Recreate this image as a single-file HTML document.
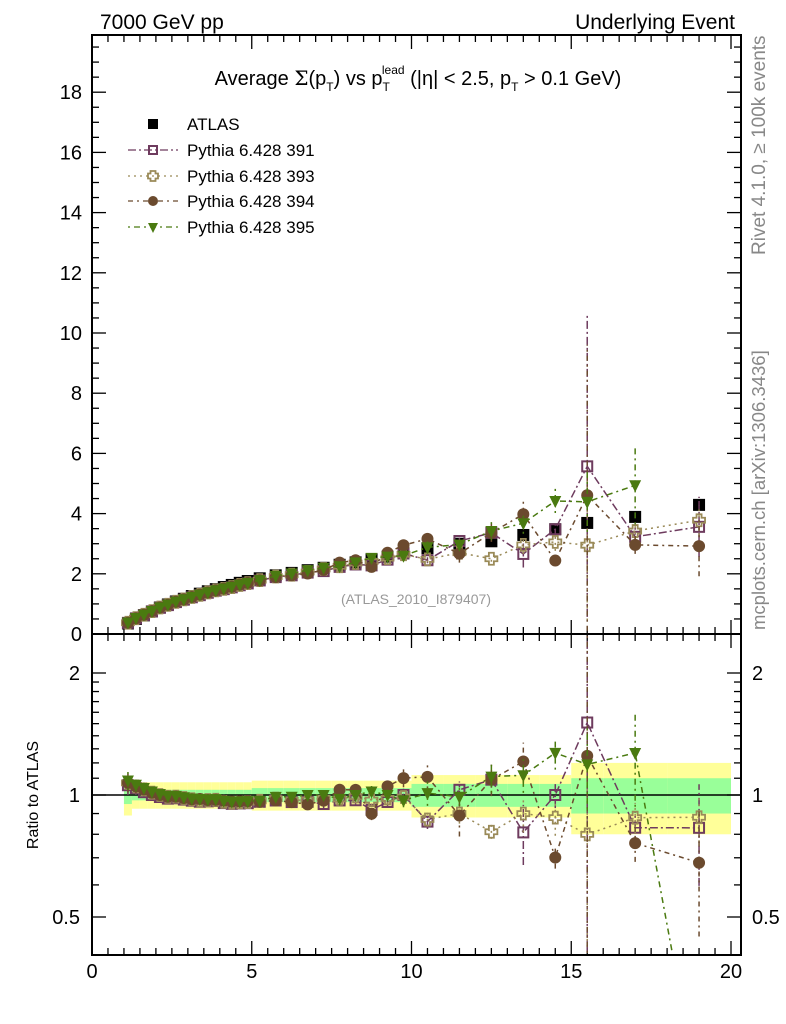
<!DOCTYPE html>
<html><head><meta charset="utf-8"><style>
html,body{margin:0;padding:0;background:#fff;overflow:hidden;width:786px;height:1024px;}
svg{display:block;font-family:"Liberation Sans",Arial,sans-serif;}
</style></head><body>
<svg id="chart" width="786" height="1024" viewBox="0 0 786 1024" xmlns="http://www.w3.org/2000/svg">
<defs>
<clipPath id="cm"><rect x="92" y="35" width="649" height="599"/></clipPath>
<clipPath id="cr"><rect x="92" y="634" width="649" height="321"/></clipPath>
</defs>
<text x="100" y="29" font-size="21">7000 GeV pp</text>
<text x="735" y="29" font-size="21" text-anchor="end">Underlying Event</text>
<text x="418" y="85" font-size="20" text-anchor="middle">Average <tspan font-family="DejaVu Serif">Σ</tspan>(p<tspan font-size="12" dy="6">T</tspan><tspan dy="-6">) vs p</tspan><tspan font-size="12" dy="6">T</tspan><tspan font-size="12" dx="-8" dy="-17">lead</tspan><tspan dy="11"> (|η| &lt; 2.5, p</tspan><tspan font-size="12" dy="6">T</tspan><tspan dy="-6"> &gt; 0.1 GeV)</tspan></text>
<text x="416" y="604" font-size="14" fill="#999" text-anchor="middle">(ATLAS_2010_I879407)</text>
<text transform="translate(765,255) rotate(-90)" font-size="19" fill="#888">Rivet 4.1.0, ≥ 100k events</text>
<text transform="translate(765,630) rotate(-90)" font-size="18.5" fill="#888">mcplots.cern.ch [arXiv:1306.3436]</text>
<text transform="translate(38,795) rotate(-90)" font-size="16" text-anchor="middle">Ratio to ATLAS</text>
<g id="bands" clip-path="url(#cr)"></g>
<line x1="92" x2="741" y1="795" y2="795" stroke="#000" stroke-width="1.5"/>
<g id="axes"></g>
<g id="main" clip-path="url(#cm)"></g>
<g id="ratio" clip-path="url(#cr)"></g>
<g id="legend"></g>
<rect x="92" y="35" width="649" height="599" fill="none" stroke="#000" stroke-width="2"/>
<rect x="92" y="634" width="649" height="321" fill="none" stroke="#000" stroke-width="2"/>
</svg>
<script>
const xCenters=[1.125,1.375,1.625,1.875,2.125,2.375,2.625,2.875,3.125,3.375,3.625,3.875,4.125,4.375,4.625,4.875,5.25,5.75,6.25,6.75,7.25,7.75,8.25,8.75,9.25,9.75,10.5,11.5,12.5,13.5,14.5,15.5,17,19];
const xEdges=[1,1.25,1.5,1.75,2,2.25,2.5,2.75,3,3.25,3.5,3.75,4,4.25,4.5,4.75,5,5.5,6,6.5,7,7.5,8,8.5,9,9.5,10,11,12,13,14,15,16,18,20];
const atlas=[0.35,0.5,0.62,0.75,0.88,0.98,1.08,1.17,1.26,1.34,1.42,1.49,1.56,1.63,1.70,1.76,1.85,1.95,2.03,2.12,2.20,2.30,2.38,2.48,2.57,2.68,2.85,3.0,3.08,3.29,3.48,3.69,3.89,4.29];
const atlasTotRel=[0.11,0.075,0.075,0.075,0.075,0.075,0.075,0.075,0.075,0.075,0.075,0.075,0.075,0.075,0.075,0.075,0.085,0.085,0.085,0.085,0.085,0.085,0.085,0.085,0.085,0.085,0.12,0.12,0.12,0.12,0.12,0.2,0.2,0.2];
const atlasStatRel=[0.05,0.03,0.03,0.03,0.03,0.03,0.03,0.03,0.03,0.03,0.03,0.03,0.03,0.03,0.03,0.03,0.04,0.04,0.04,0.04,0.04,0.04,0.04,0.04,0.04,0.04,0.065,0.065,0.065,0.065,0.065,0.1,0.1,0.1];
const py391=[0.37,0.52,0.63,0.75,0.87,0.96,1.06,1.14,1.22,1.29,1.37,1.44,1.49,1.55,1.62,1.68,1.78,1.89,1.95,2.04,2.09,2.23,2.31,2.28,2.47,2.68,2.45,3.09,3.36,2.66,3.48,5.57,3.23,3.56];
const py393=[0.375,0.525,0.64,0.76,0.88,0.97,1.07,1.15,1.23,1.30,1.38,1.45,1.50,1.56,1.63,1.69,1.79,1.91,1.97,2.06,2.16,2.25,2.36,2.41,2.52,2.65,2.48,2.7,2.5,2.96,3.06,2.95,3.42,3.78];
const py394=[0.375,0.525,0.64,0.76,0.88,0.97,1.07,1.15,1.23,1.31,1.38,1.45,1.51,1.57,1.64,1.70,1.78,1.89,1.95,2.01,2.13,2.37,2.45,2.23,2.70,2.95,3.16,2.67,3.36,3.98,2.44,4.61,2.96,2.92];
const py395=[0.38,0.53,0.645,0.765,0.885,0.975,1.075,1.155,1.235,1.31,1.385,1.455,1.51,1.57,1.64,1.70,1.79,1.93,2.01,2.12,2.20,2.25,2.38,2.53,2.57,2.60,2.88,2.97,3.42,3.68,4.42,4.39,4.94,0];
const err391=[0.02,0.02,0.02,0.02,0.02,0.02,0.02,0.02,0.02,0.02,0.02,0.02,0.03,0.03,0.03,0.03,0.04,0.04,0.05,0.05,0.06,0.06,0.07,0.08,0.08,0.1,0.1,0.15,0.15,0.45,0.25,5,0.3,1.0];
const err393=[0.02,0.02,0.02,0.02,0.02,0.02,0.02,0.02,0.02,0.02,0.02,0.02,0.03,0.03,0.03,0.03,0.04,0.04,0.05,0.05,0.06,0.06,0.07,0.08,0.08,0.1,0.1,0.15,0.1,0.3,0.3,2.5,0.3,0.5];
const err394=[0.02,0.02,0.02,0.02,0.02,0.02,0.02,0.02,0.02,0.02,0.02,0.02,0.03,0.03,0.03,0.03,0.04,0.04,0.05,0.05,0.06,0.06,0.07,0.08,0.08,0.15,0.25,0.3,0.3,0.45,0.15,5,0.3,1.0];
const err395=[0.02,0.02,0.02,0.02,0.02,0.02,0.02,0.02,0.02,0.02,0.02,0.02,0.03,0.03,0.03,0.03,0.04,0.04,0.05,0.05,0.06,0.06,0.07,0.08,0.08,0.1,0.2,0.15,0.3,0.35,0.4,1.0,1.3,0];
const xTickLabels=["0","5","10","15","20"];
const yTickLabels=["0","2","4","6","8","10","12","14","16","18"];
const rTickLabels=["0.5","1","2"];
const legendLabels=["ATLAS","Pythia 6.428 391","Pythia 6.428 393","Pythia 6.428 394","Pythia 6.428 395"];

const NS="http://www.w3.org/2000/svg";
const X=v=>92+v*31.95;
const Y=v=>634-v*30.1;
const R=r=>795-122*Math.log2(Math.max(r,0.18));
function mk(tag,attrs,parent){const e=document.createElementNS(NS,tag);for(const k in attrs)e.setAttribute(k,attrs[k]);parent.appendChild(e);return e;}
const gA=document.getElementById('axes'),gM=document.getElementById('main'),gR=document.getElementById('ratio'),gB=document.getElementById('bands'),gL=document.getElementById('legend');

for(let i=0;i<xCenters.length;i++){
  const x0=X(xEdges[i]),x1=X(xEdges[i+1]);
  const t=atlasTotRel[i],s=atlasStatRel[i];
  let b=mk('rect',{x:x0,y:R(1+t),width:x1-x0,height:R(1-t)-R(1+t),fill:'#ffff99'},gB);
  
  
  b=mk('rect',{x:x0,y:R(1+s),width:x1-x0,height:R(1-s)-R(1+s),fill:'#99ff99'},gB);
  
  
}

for(let v=0;v<=20.3;v+=0.5){
  const major=Math.abs(v%5)<1e-6, len=major?14:7, x=X(v);
  [[634,-1],[35,1],[955,-1],[634,1]].forEach(([y,d])=>{mk('line',{x1:x,x2:x,y1:y,y2:y+d*len,stroke:'#000','stroke-width':1.3},gA);});
}
xTickLabels.forEach((l,i)=>{const t=mk('text',{x:X(i*5),y:978,'font-size':20,'text-anchor':'middle'},gA);t.textContent=l;
  
  });
for(let v=0;v<=19.9;v+=0.5){
  const major=Math.abs(v%2)<1e-6,len=major?14:7,y=Y(v);
  mk('line',{x1:92,x2:92+len,y1:y,y2:y,stroke:'#000','stroke-width':1.3},gA);
  mk('line',{x1:741,x2:741-len,y1:y,y2:y,stroke:'#000','stroke-width':1.3},gA);
}
yTickLabels.forEach((l,i)=>{const t=mk('text',{x:82,y:Y(i*2)+7,'font-size':20,'text-anchor':'end'},gA);t.textContent=l;
  
  });
[0.5,0.6,0.7,0.8,0.9,1,1.1,1.2,1.3,1.4,1.5,1.6,1.7,1.8,1.9,2].forEach(r=>{
  const major=(r===0.5||r===1||r===2),len=major?14:7,y=R(r);
  mk('line',{x1:92,x2:92+len,y1:y,y2:y,stroke:'#000','stroke-width':1.3},gA);
  mk('line',{x1:741,x2:741-len,y1:y,y2:y,stroke:'#000','stroke-width':1.3},gA);
});
rTickLabels.forEach(l=>{const r=parseFloat(l);
  let t=mk('text',{x:80,y:R(r)+7,'font-size':20,'text-anchor':'end'},gA);t.textContent=l;
  
  
  t=mk('text',{x:752,y:R(r)+7,'font-size':20},gA);t.textContent=l;
  
  });

function marker(type,x,y,col,parent,s){
  s=s||6;let e;
  if(type==='sq-fill')e=mk('rect',{x:x-s,y:y-s,width:2*s,height:2*s,fill:'#000'},parent);
  else if(type==='sq-open')e=mk('rect',{x:x-s+1,y:y-s+1,width:2*s-2,height:2*s-2,fill:'none',stroke:col,'stroke-width':2},parent);
  else if(type==='cross'){const w=2.5;e=mk('path',{d:`M${x-w},${y-s}H${x+w}V${y-w}H${x+s}V${y+w}H${x+w}V${y+s}H${x-w}V${y+w}H${x-s}V${y-w}H${x-w}Z`,fill:'none',stroke:col,'stroke-width':1.8},parent);}
  else if(type==='circle')e=mk('circle',{cx:x,cy:y,r:s,fill:col},parent);
  else e=mk('path',{d:`M${x-s},${y-s+1}H${x+s}L${x},${y+s+1}Z`,fill:col},parent);
  return e;
}

atlas.forEach((v,i)=>{const m=marker('sq-fill',X(xCenters[i]),Y(v),'#000',gM);
  
  });

const series=[
 {name:'pythia-391',vals:py391,err:err391,col:'#6e3b5e',m:'sq-open',dash:'8,3,2,3'},
 {name:'pythia-393',vals:py393,err:err393,col:'#9a8a58',m:'cross',dash:'2,4'},
 {name:'pythia-394',vals:py394,err:err394,col:'#6b4a2e',m:'circle',dash:'5,4,2,4'},
 {name:'pythia-395',vals:py395,err:err395,col:'#4a7a10',m:'tri',dash:'2,4,6,4'}
];
series.forEach(s=>{
  const mp=[],rp=[];
  s.vals.forEach((v,i)=>{if(v>0)mp.push(X(xCenters[i])+','+Y(v));rp.push(X(xCenters[i])+','+R(v/atlas[i]));});
  let l=mk('polyline',{points:mp.join(' '),fill:'none',stroke:s.col,'stroke-width':1.5,'stroke-dasharray':s.dash},gM);
  
  
  l=mk('polyline',{points:rp.join(' '),fill:'none',stroke:s.col,'stroke-width':1.5,'stroke-dasharray':s.dash},gR);
  
  
  s.vals.forEach((v,i)=>{
    const x=X(xCenters[i]),e=s.err[i];
    if(v>0){
      mk('line',{x1:x,x2:x,y1:Y(v-e),y2:Y(v+e),stroke:s.col,'stroke-width':1.5,'stroke-dasharray':s.dash},gM);
      const m=marker(s.m,x,Y(v),s.col,gM);
      
      
      mk('line',{x1:x,x2:x,y1:R((v-e)/atlas[i]),y2:R((v+e)/atlas[i]),stroke:s.col,'stroke-width':1.5,'stroke-dasharray':s.dash},gR);
      const m2=marker(s.m,x,R(v/atlas[i]),s.col,gR);
      
      
    }
  });
});

const lgY=[124,150,176,201,227];
legendLabels.forEach((lab,i)=>{
  const y=lgY[i];
  if(i===0){const m=marker('sq-fill',153,y,'#000',gL,5);
    
    }
  else{const s=series[i-1];
    mk('line',{x1:128,x2:178,y1:y,y2:y,stroke:s.col,'stroke-width':1.3,'stroke-dasharray':s.dash},gL);
    const m=marker(s.m,153,y,s.col,gL,5);
    
    }
  const t=mk('text',{x:187,y:y+6,'font-size':17},gL);t.textContent=lab;
  
  
});
</script>
</body></html>
